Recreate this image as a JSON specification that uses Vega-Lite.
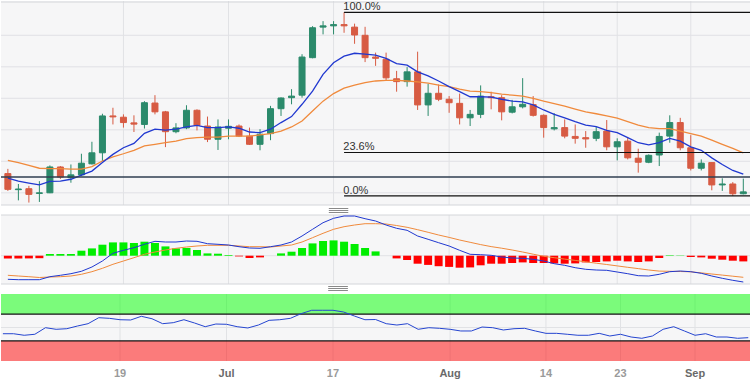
{
"$schema": "https://vega.github.io/schema/vega-lite/v6.json",
"padding": 0,
"spacing": 10,
"bounds": "flush",
"background": "white",
"config": {"view": {"fill": "#f6f6f7", "stroke": null}, "font": "Liberation Sans", "axis": {"title": null}},
"datasets": {
"k": [
{"i":0,"d":"2023-06-02","o":1.0761,"h":1.0776,"l":1.0706,"c":1.0711,"s1":1.0747,"s2":1.0803,"m":-0.00472,"sg":-0.00392,"hs":-0.00054,"rsi":40.7},
{"i":1,"d":"2023-06-05","o":1.0710,"h":1.0728,"l":1.0676,"c":1.0712,"s1":1.0737,"s2":1.0796,"m":-0.0048,"sg":-0.00406,"hs":-0.00054,"rsi":40.7},
{"i":2,"d":"2023-06-06","o":1.0713,"h":1.0722,"l":1.0669,"c":1.0695,"s1":1.0731,"s2":1.0787,"m":-0.0048,"sg":-0.0042,"hs":-0.00054,"rsi":38.4},
{"i":3,"d":"2023-06-07","o":1.0698,"h":1.0737,"l":1.0671,"c":1.0700,"s1":1.0725,"s2":1.0778,"m":-0.0048,"sg":-0.00436,"hs":-0.0005,"rsi":39.9},
{"i":4,"d":"2023-06-08","o":1.0700,"h":1.0787,"l":1.0699,"c":1.0782,"s1":1.0736,"s2":1.0777,"m":-0.0042,"sg":-0.00426,"hs":0.00034,"rsi":49.7},
{"i":5,"d":"2023-06-09","o":1.0782,"h":1.0785,"l":1.0744,"c":1.0750,"s1":1.0737,"s2":1.0777,"m":-0.00392,"sg":-0.0042,"hs":0.00034,"rsi":47.3},
{"i":6,"d":"2023-06-12","o":1.0748,"h":1.0790,"l":1.0732,"c":1.0757,"s1":1.0743,"s2":1.0775,"m":-0.0036,"sg":-0.00406,"hs":0.00034,"rsi":48.2},
{"i":7,"d":"2023-06-13","o":1.0757,"h":1.0824,"l":1.0753,"c":1.0794,"s1":1.0756,"s2":1.0775,"m":-0.00312,"sg":-0.00372,"hs":0.001,"rsi":52.2},
{"i":8,"d":"2023-06-14","o":1.0792,"h":1.0862,"l":1.0790,"c":1.0827,"s1":1.0769,"s2":1.0783,"m":-0.00226,"sg":-0.0032,"hs":0.00146,"rsi":55.7},
{"i":9,"d":"2023-06-15","o":1.0827,"h":1.0951,"l":1.0801,"c":1.0944,"s1":1.0796,"s2":1.0801,"m":-0.00106,"sg":-0.00252,"hs":0.0022,"rsi":64.6},
{"i":10,"d":"2023-06-16","o":1.0944,"h":1.0970,"l":1.0917,"c":1.0941,"s1":1.0822,"s2":1.0814,"m":0.00048,"sg":-0.00172,"hs":0.00266,"rsi":63.7},
{"i":11,"d":"2023-06-19","o":1.0940,"h":1.0949,"l":1.0907,"c":1.0923,"s1":1.0843,"s2":1.0824,"m":0.00108,"sg":-0.00106,"hs":0.00266,"rsi":61.6},
{"i":12,"d":"2023-06-20","o":1.0922,"h":1.0946,"l":1.0893,"c":1.0918,"s1":1.0857,"s2":1.0835,"m":0.0016,"sg":-0.0004,"hs":0.00254,"rsi":61.2},
{"i":13,"d":"2023-06-21","o":1.0917,"h":1.0991,"l":1.0904,"c":1.0986,"s1":1.0889,"s2":1.0849,"m":0.00228,"sg":0.00028,"hs":0.0028,"rsi":66.7},
{"i":14,"d":"2023-06-22","o":1.0985,"h":1.1010,"l":1.0949,"c":1.0957,"s1":1.0902,"s2":1.0854,"m":0.00288,"sg":0.00074,"hs":0.00254,"rsi":63.1},
{"i":15,"d":"2023-06-23","o":1.0957,"h":1.0960,"l":1.0845,"c":1.0894,"s1":1.0899,"s2":1.0859,"m":0.00274,"sg":0.00114,"hs":0.00186,"rsi":55.7},
{"i":16,"d":"2023-06-26","o":1.0894,"h":1.0921,"l":1.0889,"c":1.0906,"s1":1.0902,"s2":1.0864,"m":0.00274,"sg":0.00148,"hs":0.00146,"rsi":57.2},
{"i":17,"d":"2023-06-27","o":1.0906,"h":1.0978,"l":1.0902,"c":1.0962,"s1":1.0909,"s2":1.0872,"m":0.00294,"sg":0.00174,"hs":0.00154,"rsi":61.6},
{"i":18,"d":"2023-06-28","o":1.0962,"h":1.0965,"l":1.0898,"c":1.0914,"s1":1.0914,"s2":1.0875,"m":0.00288,"sg":0.00194,"hs":0.00114,"rsi":56.7},
{"i":19,"d":"2023-06-29","o":1.0912,"h":1.0942,"l":1.0861,"c":1.0870,"s1":1.0907,"s2":1.0877,"m":0.0024,"sg":0.00208,"hs":0.00046,"rsi":51.2},
{"i":20,"d":"2023-06-30","o":1.0870,"h":1.0933,"l":1.0836,"c":1.0909,"s1":1.0907,"s2":1.0877,"m":0.00228,"sg":0.00208,"hs":0.0004,"rsi":55.2},
{"i":21,"d":"2023-07-03","o":1.0905,"h":1.0933,"l":1.0870,"c":1.0911,"s1":1.0909,"s2":1.0880,"m":0.00214,"sg":0.00208,"hs":0.00014,"rsi":54.8},
{"i":22,"d":"2023-07-04","o":1.0912,"h":1.0917,"l":1.0877,"c":1.0880,"s1":1.0905,"s2":1.0880,"m":0.0018,"sg":0.00194,"hs":-0.00014,"rsi":51.2},
{"i":23,"d":"2023-07-05","o":1.0880,"h":1.0907,"l":1.0852,"c":1.0854,"s1":1.0893,"s2":1.0880,"m":0.00154,"sg":0.0018,"hs":-0.00046,"rsi":49.3},
{"i":24,"d":"2023-07-06","o":1.0854,"h":1.0902,"l":1.0835,"c":1.0886,"s1":1.0891,"s2":1.0884,"m":0.00148,"sg":0.0018,"hs":-0.00034,"rsi":53.7},
{"i":25,"d":"2023-07-07","o":1.0888,"h":1.0976,"l":1.0867,"c":1.0967,"s1":1.0902,"s2":1.0888,"m":0.0018,"sg":0.00174,"hs":0,"rsi":60.7},
{"i":26,"d":"2023-07-10","o":1.0967,"h":1.1003,"l":1.0944,"c":1.1001,"s1":1.0923,"s2":1.0896,"m":0.00214,"sg":0.00194,"hs":0.00046,"rsi":61.6},
{"i":27,"d":"2023-07-11","o":1.1002,"h":1.1029,"l":1.0981,"c":1.1007,"s1":1.0942,"s2":1.0909,"m":0.00274,"sg":0.00214,"hs":0.0008,"rsi":63.7},
{"i":28,"d":"2023-07-12","o":1.1010,"h":1.1140,"l":1.1002,"c":1.1131,"s1":1.0981,"s2":1.0928,"m":0.00394,"sg":0.00274,"hs":0.00154,"rsi":70.6},
{"i":29,"d":"2023-07-13","o":1.1129,"h":1.1229,"l":1.1127,"c":1.1224,"s1":1.1023,"s2":1.0960,"m":0.00528,"sg":0.0036,"hs":0.00246,"rsi":75.7},
{"i":30,"d":"2023-07-14","o":1.1226,"h":1.1245,"l":1.1203,"c":1.1230,"s1":1.1076,"s2":1.0991,"m":0.0066,"sg":0.00448,"hs":0.00294,"rsi":75.7},
{"i":31,"d":"2023-07-17","o":1.1230,"h":1.1245,"l":1.1203,"c":1.1234,"s1":1.1113,"s2":1.1015,"m":0.00748,"sg":0.00528,"hs":0.00306,"rsi":75.7},
{"i":32,"d":"2023-07-18","o":1.1234,"h":1.1273,"l":1.1208,"c":1.1230,"s1":1.1134,"s2":1.1032,"m":0.00794,"sg":0.0058,"hs":0.0028,"rsi":73.1},
{"i":33,"d":"2023-07-19","o":1.1226,"h":1.1237,"l":1.1173,"c":1.1201,"s1":1.1143,"s2":1.1042,"m":0.00794,"sg":0.00614,"hs":0.00234,"rsi":67.2},
{"i":34,"d":"2023-07-20","o":1.1200,"h":1.1227,"l":1.1115,"c":1.1129,"s1":1.1140,"s2":1.1050,"m":0.0074,"sg":0.0064,"hs":0.00154,"rsi":61.6},
{"i":35,"d":"2023-07-21","o":1.1131,"h":1.1145,"l":1.1103,"c":1.1127,"s1":1.1137,"s2":1.1055,"m":0.00694,"sg":0.0064,"hs":0.00086,"rsi":61.9},
{"i":36,"d":"2023-07-24","o":1.1124,"h":1.1145,"l":1.1058,"c":1.1065,"s1":1.1127,"s2":1.1057,"m":0.00614,"sg":0.00634,"hs":0,"rsi":55.7},
{"i":37,"d":"2023-07-25","o":1.1062,"h":1.1087,"l":1.1021,"c":1.1053,"s1":1.1110,"s2":1.1057,"m":0.00548,"sg":0.00604,"hs":-0.00054,"rsi":53.7},
{"i":38,"d":"2023-07-26","o":1.1053,"h":1.1099,"l":1.1037,"c":1.1084,"s1":1.1105,"s2":1.1055,"m":0.00508,"sg":0.00568,"hs":-0.00086,"rsi":55.7},
{"i":39,"d":"2023-07-27","o":1.1084,"h":1.1148,"l":1.0963,"c":1.0979,"s1":1.1084,"s2":1.1052,"m":0.00394,"sg":0.0052,"hs":-0.0016,"rsi":47.3},
{"i":40,"d":"2023-07-28","o":1.0979,"h":1.1046,"l":1.0944,"c":1.1016,"s1":1.1071,"s2":1.1048,"m":0.00328,"sg":0.00468,"hs":-0.00184,"rsi":49.7},
{"i":41,"d":"2023-07-31","o":1.1016,"h":1.1044,"l":1.0991,"c":1.0997,"s1":1.1055,"s2":1.1042,"m":0.0026,"sg":0.00414,"hs":-0.0021,"rsi":48.8},
{"i":42,"d":"2023-08-01","o":1.0997,"h":1.1007,"l":1.0954,"c":1.0986,"s1":1.1037,"s2":1.1037,"m":0.00194,"sg":0.00366,"hs":-0.00224,"rsi":47.3},
{"i":43,"d":"2023-08-02","o":1.0984,"h":1.1015,"l":1.0917,"c":1.0938,"s1":1.1021,"s2":1.1029,"m":0.00108,"sg":0.00314,"hs":-0.0024,"rsi":44.8},
{"i":44,"d":"2023-08-03","o":1.0938,"h":1.0963,"l":1.0912,"c":1.0949,"s1":1.1005,"s2":1.1023,"m":0.00028,"sg":0.00268,"hs":-0.00234,"rsi":44.8},
{"i":45,"d":"2023-08-04","o":1.0949,"h":1.1041,"l":1.0937,"c":1.1007,"s1":1.1005,"s2":1.1021,"m":0.0002,"sg":0.00222,"hs":-0.00192,"rsi":50.7},
{"i":46,"d":"2023-08-07","o":1.1005,"h":1.1021,"l":1.0965,"c":1.1002,"s1":1.1004,"s2":1.1018,"m":0.00008,"sg":0.00182,"hs":-0.0016,"rsi":49.7},
{"i":47,"d":"2023-08-08","o":1.1002,"h":1.1010,"l":1.0930,"c":1.0957,"s1":1.0997,"s2":1.1013,"m":-0.00026,"sg":0.0015,"hs":-0.0016,"rsi":46.3},
{"i":48,"d":"2023-08-09","o":1.0956,"h":1.0995,"l":1.0952,"c":1.0973,"s1":1.0991,"s2":1.1010,"m":-0.00046,"sg":0.00114,"hs":-0.00146,"rsi":48.2},
{"i":49,"d":"2023-08-10","o":1.0973,"h":1.1064,"l":1.0968,"c":1.0981,"s1":1.0989,"s2":1.1007,"m":-0.00052,"sg":0.00074,"hs":-0.00134,"rsi":48.8},
{"i":50,"d":"2023-08-11","o":1.0980,"h":1.1007,"l":1.0942,"c":1.0946,"s1":1.0979,"s2":1.1000,"m":-0.00072,"sg":0.0003,"hs":-0.00146,"rsi":44.8},
{"i":51,"d":"2023-08-14","o":1.0946,"h":1.0949,"l":1.0875,"c":1.0907,"s1":1.0963,"s2":1.0991,"m":-0.00106,"sg":-0.00012,"hs":-0.00146,"rsi":41.3},
{"i":52,"d":"2023-08-15","o":1.0903,"h":1.0953,"l":1.0898,"c":1.0907,"s1":1.0949,"s2":1.0983,"m":-0.0016,"sg":-0.0004,"hs":-0.00154,"rsi":41.3},
{"i":53,"d":"2023-08-16","o":1.0907,"h":1.0933,"l":1.0873,"c":1.0880,"s1":1.0938,"s2":1.0975,"m":-0.00192,"sg":-0.00068,"hs":-0.0016,"rsi":39.9},
{"i":54,"d":"2023-08-17","o":1.0879,"h":1.0917,"l":1.0856,"c":1.0873,"s1":1.0926,"s2":1.0966,"m":-0.0024,"sg":-0.00094,"hs":-0.00154,"rsi":38.4},
{"i":55,"d":"2023-08-18","o":1.0875,"h":1.0896,"l":1.0843,"c":1.0871,"s1":1.0915,"s2":1.0957,"m":-0.00272,"sg":-0.00122,"hs":-0.00134,"rsi":38.4},
{"i":56,"d":"2023-08-21","o":1.0873,"h":1.0909,"l":1.0864,"c":1.0894,"s1":1.0910,"s2":1.0951,"m":-0.00286,"sg":-0.0015,"hs":-0.00126,"rsi":41.3},
{"i":57,"d":"2023-08-22","o":1.0896,"h":1.0931,"l":1.0835,"c":1.0846,"s1":1.0898,"s2":1.0944,"m":-0.00292,"sg":-0.00176,"hs":-0.00114,"rsi":37.3},
{"i":58,"d":"2023-08-23","o":1.0846,"h":1.0873,"l":1.0803,"c":1.0862,"s1":1.0891,"s2":1.0937,"m":-0.00326,"sg":-0.00204,"hs":-0.001,"rsi":39.9},
{"i":59,"d":"2023-08-24","o":1.0864,"h":1.0875,"l":1.0806,"c":1.0811,"s1":1.0875,"s2":1.0926,"m":-0.0036,"sg":-0.00232,"hs":-0.00114,"rsi":35.8},
{"i":60,"d":"2023-08-25","o":1.0810,"h":1.0840,"l":1.0764,"c":1.0797,"s1":1.0859,"s2":1.0915,"m":-0.004,"sg":-0.00258,"hs":-0.00126,"rsi":33.9},
{"i":61,"d":"2023-08-28","o":1.0797,"h":1.0822,"l":1.0794,"c":1.0819,"s1":1.0852,"s2":1.0907,"m":-0.00406,"sg":-0.00286,"hs":-0.00114,"rsi":37.3},
{"i":62,"d":"2023-08-29","o":1.0820,"h":1.0891,"l":1.0785,"c":1.0879,"s1":1.0859,"s2":1.0904,"m":-0.00372,"sg":-0.00308,"hs":-0.00046,"rsi":47.3},
{"i":63,"d":"2023-08-30","o":1.0880,"h":1.0946,"l":1.0859,"c":1.0923,"s1":1.0873,"s2":1.0904,"m":-0.0032,"sg":-0.00312,"hs":0.0001,"rsi":51.2},
{"i":64,"d":"2023-08-31","o":1.0923,"h":1.0938,"l":1.0835,"c":1.0843,"s1":1.0864,"s2":1.0896,"m":-0.00306,"sg":-0.00316,"hs":0.00006,"rsi":44.8},
{"i":65,"d":"2023-09-01","o":1.0843,"h":1.0883,"l":1.0771,"c":1.0778,"s1":1.0846,"s2":1.0888,"m":-0.0032,"sg":-0.00322,"hs":-0.00026,"rsi":38.4},
{"i":66,"d":"2023-09-04","o":1.0778,"h":1.0806,"l":1.0771,"c":1.0794,"s1":1.0835,"s2":1.0880,"m":-0.00352,"sg":-0.00344,"hs":-0.00034,"rsi":40.7},
{"i":67,"d":"2023-09-05","o":1.0796,"h":1.0797,"l":1.0708,"c":1.0725,"s1":1.0811,"s2":1.0867,"m":-0.00406,"sg":-0.00366,"hs":-0.0006,"rsi":35.8},
{"i":68,"d":"2023-09-06","o":1.0725,"h":1.0746,"l":1.0706,"c":1.0728,"s1":1.0790,"s2":1.0854,"m":-0.00452,"sg":-0.00388,"hs":-0.0008,"rsi":35.8},
{"i":69,"d":"2023-09-07","o":1.0728,"h":1.0734,"l":1.0690,"c":1.0697,"s1":1.0771,"s2":1.0841,"m":-0.00492,"sg":-0.0041,"hs":-0.001,"rsi":33.9},
{"i":70,"d":"2023-09-08","o":1.0697,"h":1.0745,"l":1.0695,"c":1.0703,"s1":1.0759,"s2":1.0827,"m":-0.00526,"sg":-0.00432,"hs":-0.00114,"rsi":34.8}
],
"fib": [
{"i":32,"lvl":"100.0%","p":1.1273},
{"i":32,"lvl":"23.6%","p":1.0828},
{"i":32,"lvl":"0.0%","p":1.0690}
],
"gx": [
{"i":11,"lab":"19","mon":0},
{"i":21,"lab":"Jul","mon":1},
{"i":31,"lab":"17","mon":0},
{"i":42,"lab":"Aug","mon":1},
{"i":51,"lab":"14","mon":0},
{"i":58,"lab":"23","mon":0},
{"i":65,"lab":"Sep","mon":1}
],
"gy": [{"p":1.07},{"p":1.08},{"p":1.09},{"p":1.10},{"p":1.11},{"p":1.12}],
"one": [{}]
},
"vconcat": [
{
"width": 750, "height": 204,
"layer": [
{"data": {"name": "gx"}, "mark": {"type": "rule", "color": "#e1e2e5", "strokeWidth": 1},
 "encoding": {
  "x": {"field": "i", "type": "quantitative", "scale": {"domain": [-0.178, 70.257], "nice": false, "zero": false}, "axis": null}
 }},
{"data": {"name": "gy"}, "mark": {"type": "rule", "color": "#e1e2e5", "strokeWidth": 1},
 "encoding": {
  "y": {"field": "p", "type": "quantitative", "scale": {"domain": [1.06613, 1.13089], "nice": false, "zero": false}, "axis": null}
 }},
{"data": {"name": "one"}, "mark": {"type": "rule", "clip": true, "color": "#d4d6da"},
 "encoding": {"y": {"datum": 1.13057, "type": "quantitative", "axis": null}}},
{"data": {"name": "one"}, "mark": {"type": "rule", "color": "#d4d6da"},
 "encoding": {"y": {"datum": 1.06613, "type": "quantitative", "axis": null}}},
{"data": {"name": "k"}, "mark": {"type": "rule", "clip": true, "strokeWidth": 1},
 "encoding": {
  "x": {"field": "i", "type": "quantitative", "axis": null},
  "y": {"field": "l", "type": "quantitative", "axis": null},
  "y2": {"field": "h"},
  "color": {"condition": {"test": "datum.c >= datum.o", "value": "#2b8a6b"}, "value": "#d75b43"}
 }},
{"data": {"name": "k"}, "mark": {"type": "bar", "clip": true, "size": 6, "strokeWidth": 1},
 "encoding": {
  "x": {"field": "i", "type": "quantitative", "axis": null},
  "y": {"field": "o", "type": "quantitative", "axis": null},
  "y2": {"field": "c"},
  "color": {"condition": {"test": "datum.c >= datum.o", "value": "#2b8a6b"}, "value": "#d75b43"},
  "stroke": {"condition": {"test": "datum.c >= datum.o", "value": "#2b8a6b"}, "value": "#d75b43"}
 }},
{"data": {"name": "k"}, "mark": {"type": "line", "clip": true, "color": "#f08a3c", "strokeWidth": 1.3},
 "encoding": {
  "x": {"field": "i", "type": "quantitative", "axis": null},
  "y": {"field": "s2", "type": "quantitative", "axis": null}
 }},
{"data": {"name": "k"}, "mark": {"type": "line", "clip": true, "color": "#2038d0", "strokeWidth": 1.3},
 "encoding": {
  "x": {"field": "i", "type": "quantitative", "axis": null},
  "y": {"field": "s1", "type": "quantitative", "axis": null}
 }},
{"data": {"name": "one"}, "mark": {"type": "rule", "clip": true, "color": "#2f3e50", "strokeWidth": 1.4},
 "encoding": {"y": {"datum": 1.075, "type": "quantitative", "axis": null}}},
{"data": {"name": "fib"}, "mark": {"type": "rule", "clip": true, "color": "#111111", "strokeWidth": 1.2},
 "encoding": {
  "x": {"field": "i", "type": "quantitative", "axis": null},
  "x2": {"datum": 75},
  "y": {"field": "p", "type": "quantitative", "axis": null}
 }},
{"data": {"name": "fib"}, "mark": {"type": "text", "align": "left", "baseline": "alphabetic", "dx": -0.8, "dy": -2, "fontSize": 11, "color": "#333333"},
 "encoding": {
  "x": {"field": "i", "type": "quantitative", "axis": null},
  "y": {"field": "p", "type": "quantitative", "axis": null},
  "text": {"field": "lvl"}
 }}
]
},
{
"width": 750, "height": 69,
"layer": [
{"data": {"name": "gx"}, "mark": {"type": "rule", "color": "#e1e2e5", "strokeWidth": 1},
 "encoding": {
  "x": {"field": "i", "type": "quantitative", "scale": {"domain": [-0.178, 70.257], "nice": false, "zero": false}, "axis": null}
 }},
{"data": {"name": "one"}, "mark": {"type": "rule", "color": "#e1e2e5"},
 "encoding": {"y": {"datum": 0, "type": "quantitative", "scale": {"domain": [-0.00566, 0.00814], "nice": false, "zero": false}, "axis": null}}},
{"data": {"name": "one"}, "mark": {"type": "rule", "color": "#d4d6da"},
 "encoding": {"y": {"datum": 0.00814, "type": "quantitative", "axis": null}}},
{"data": {"name": "one"}, "mark": {"type": "rule", "color": "#d4d6da"},
 "encoding": {"y": {"datum": -0.00566, "type": "quantitative", "axis": null}}},
{"data": {"name": "k"}, "mark": {"type": "bar", "clip": true, "size": 8},
 "encoding": {
  "x": {"field": "i", "type": "quantitative", "axis": null},
  "y": {"field": "hs", "type": "quantitative", "axis": null},
  "y2": {"datum": 0},
  "color": {"condition": {"test": "datum.hs >= 0", "value": "#00ee00"}, "value": "#ff0000"}
 }},
{"data": {"name": "k"}, "mark": {"type": "line", "clip": true, "color": "#f08a3c", "strokeWidth": 1},
 "encoding": {
  "x": {"field": "i", "type": "quantitative", "axis": null},
  "y": {"field": "sg", "type": "quantitative", "axis": null}
 }},
{"data": {"name": "k"}, "mark": {"type": "line", "clip": true, "color": "#2038d0", "strokeWidth": 1},
 "encoding": {
  "x": {"field": "i", "type": "quantitative", "axis": null},
  "y": {"field": "m", "type": "quantitative", "axis": null}
 }},
{"data": {"name": "one"}, "mark": {"type": "rule", "color": "#8a8a8a", "yOffset": -6.5},
 "encoding": {"x": {"datum": 30.55, "type": "quantitative", "axis": null}, "x2": {"datum": 32.4}, "y": {"datum": 0.00814, "type": "quantitative", "axis": null}}},
{"data": {"name": "one"}, "mark": {"type": "rule", "color": "#8a8a8a", "yOffset": -4.5},
 "encoding": {"x": {"datum": 30.55, "type": "quantitative", "axis": null}, "x2": {"datum": 32.4}, "y": {"datum": 0.00814, "type": "quantitative", "axis": null}}},
{"data": {"name": "one"}, "mark": {"type": "rule", "color": "#8a8a8a", "yOffset": -2.5},
 "encoding": {"x": {"datum": 30.55, "type": "quantitative", "axis": null}, "x2": {"datum": 32.4}, "y": {"datum": 0.00814, "type": "quantitative", "axis": null}}}
]
},
{
"width": 750, "height": 67,
"layer": [
{"data": {"name": "gx"}, "mark": {"type": "rule", "color": "#e1e2e5", "strokeWidth": 1},
 "encoding": {
  "x": {"field": "i", "type": "quantitative", "scale": {"domain": [-0.178, 70.257], "nice": false, "zero": false}, "axis": null}
 }},
{"data": {"name": "one"}, "mark": {"type": "rule", "color": "#e1e2e5"},
 "encoding": {"y": {"datum": 50, "type": "quantitative", "scale": {"domain": [0, 100], "nice": false, "zero": false}, "axis": null}}},
{"data": {"name": "one"}, "mark": {"type": "rect", "clip": true, "color": "#00ff00", "opacity": 0.5},
 "encoding": {"x": {"datum": -1, "type": "quantitative", "axis": null}, "x2": {"datum": 75}, "y": {"datum": 70, "type": "quantitative", "axis": null}, "y2": {"datum": 100}}},
{"data": {"name": "one"}, "mark": {"type": "rect", "clip": true, "color": "#ff0000", "opacity": 0.5},
 "encoding": {"x": {"datum": -1, "type": "quantitative", "axis": null}, "x2": {"datum": 75}, "y": {"datum": 0, "type": "quantitative", "axis": null}, "y2": {"datum": 30}}},
{"data": {"name": "one"}, "mark": {"type": "rule", "color": "#111111", "strokeWidth": 1.2},
 "encoding": {"y": {"datum": 70, "type": "quantitative", "axis": null}}},
{"data": {"name": "one"}, "mark": {"type": "rule", "color": "#111111", "strokeWidth": 1.2},
 "encoding": {"y": {"datum": 30, "type": "quantitative", "axis": null}}},
{"data": {"name": "k"}, "mark": {"type": "line", "clip": true, "color": "#2545d0", "strokeWidth": 1},
 "encoding": {
  "x": {"field": "i", "type": "quantitative", "axis": null},
  "y": {"field": "rsi", "type": "quantitative", "axis": null}
 }},
{"data": {"name": "gx"}, "mark": {"type": "text", "baseline": "middle", "align": "center", "dy": 13, "fontSize": 11, "fontWeight": "bold", "font": "Liberation Sans"},
 "encoding": {
  "x": {"field": "i", "type": "quantitative", "axis": null},
  "y": {"datum": 0, "type": "quantitative", "axis": null},
  "text": {"field": "lab"},
  "color": {"condition": {"test": "datum.mon == 1", "value": "#6a6a6a"}, "value": "#9a9a9a"}
 }},
{"data": {"name": "one"}, "mark": {"type": "rule", "color": "#8a8a8a", "yOffset": -7.5},
 "encoding": {"x": {"datum": 30.55, "type": "quantitative", "axis": null}, "x2": {"datum": 32.4}, "y": {"datum": 100, "type": "quantitative", "axis": null}}},
{"data": {"name": "one"}, "mark": {"type": "rule", "color": "#8a8a8a", "yOffset": -5.5},
 "encoding": {"x": {"datum": 30.55, "type": "quantitative", "axis": null}, "x2": {"datum": 32.4}, "y": {"datum": 100, "type": "quantitative", "axis": null}}},
{"data": {"name": "one"}, "mark": {"type": "rule", "color": "#8a8a8a", "yOffset": -3.5},
 "encoding": {"x": {"datum": 30.55, "type": "quantitative", "axis": null}, "x2": {"datum": 32.4}, "y": {"datum": 100, "type": "quantitative", "axis": null}}}
]
}
]
}
